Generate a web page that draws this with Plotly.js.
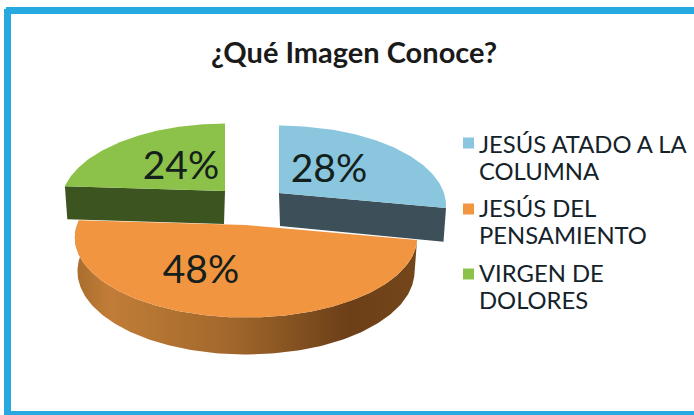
<!DOCTYPE html>
<html><head><meta charset="utf-8">
<script src="https://cdn.plot.ly/plotly-3.0.1.min.js"></script>
<style>html,body{margin:0;padding:0;background:#fff}#c{width:694px;height:415px}</style>
</head><body><div id="c"></div>
<script>
var categories = ["JESÚS ATADO A LA<br>COLUMNA", "JESÚS DEL<br>PENSAMIENTO", "VIRGEN DE<br>DOLORES"];
var values = [28, 48, 24];
var chartTitle = "¿Qué Imagen Conoce?";

var topColors = ["#8ac6dd", "#f29540", "#8cc24a"];
var wallColors = ["#3d5059", "#a0662a", "#3c5420"];
var apex = [[279,193],[246,225],[225,191]];
var radii = [165,169,162];
var labelShift = [[50,-21],[-45,48],[-44,-22]];
var swatchY = [143, 209, 274];
var legendTop = [147, 211, 276];
var LINE=26.7, P=0.157, K=78;

function pt(c, r, deg, bottom){
  var t=deg*Math.PI/180, X=Math.sin(t), Y=-Math.cos(t), w=1-P*Y;
  var d=bottom?33+4*Math.max(Y,0):0, s=bottom?0.985:1;
  return [c[0]+s*r*X/w, c[1]+K*Y/w+d];
}
function arc(c,r,a,b,bottom){
  var o=[],n=Math.max(8,Math.round(Math.abs(b-a)));
  for(var i=0;i<=n;i++) o.push(pt(c,r,a+(b-a)*i/n,bottom));
  return o;
}
function poly(points,color,extra){
  var tr={x:points.map(function(p){return p[0]}),y:points.map(function(p){return p[1]}),
    type:"scatter",mode:"lines",line:{width:0},fill:"toself",fillcolor:color,hoverinfo:"skip",showlegend:false};
  for(var k in extra) tr[k]=extra[k];
  return tr;
}
var total=values.reduce(function(a,b){return a+b},0), a0=0, angles=[];
values.forEach(function(v){angles.push([a0,a0+v/total*360]);a0+=v/total*360;});

var traces=[];
// green
(function(){var c=apex[2],r=radii[2],a=angles[2][0],b=angles[2][1];
  traces.push(poly([c,pt(c,r,a),pt(c,r,a,true),[c[0]-1,c[1]+33]],wallColors[2]));
  traces.push(poly([c].concat(arc(c,r,a,b)),topColors[2]));
})();
// blue
(function(){var c=apex[0],r=radii[0],a=angles[0][0],b=angles[0][1];
  traces.push(poly([c,pt(c,r,b),pt(c,r,b,true),[c[0]+1,c[1]+33]],wallColors[0]));
  traces.push(poly([c].concat(arc(c,r,a,b)),topColors[0]));
})();
// orange
(function(){var c=apex[1],r=radii[1],a=angles[1][0],b=angles[1][1];
  var w=arc(c,r,a,b).concat(arc(c,r,b,a,true));
  traces.push(poly(w,wallColors[1],{fillgradient:{type:"horizontal",colorscale:[
    [0,"#a86c2c"],[0.1,"#c17d38"],[0.45,"#a2682b"],[0.8,"#6c3f18"],[1,"#74461a"]]}}));
  traces.push(poly([c].concat(arc(c,r,a,b)),topColors[1]));
})();
// slice percentages
traces.push({type:"scatter",mode:"text",hoverinfo:"skip",showlegend:false,
  x:apex.map(function(c,i){return c[0]+labelShift[i][0]}),
  y:apex.map(function(c,i){return c[1]+labelShift[i][1]}),
  text:values.map(function(v){return v+"%"}),textposition:"middle center",
  textfont:{family:"Lato, 'Open Sans', sans-serif",size:39,color:"#14201c"}});
// legend swatches
traces.push({type:"scatter",mode:"markers",hoverinfo:"skip",showlegend:false,
  x:swatchY.map(function(){return 468.5}),y:swatchY,
  marker:{symbol:"square",size:11,color:topColors,line:{width:0}}});
// legend text, one line at a time for the tighter leading
var lx=[],ly=[],lt=[];
categories.forEach(function(s,i){s.split("<br>").forEach(function(t,j){lx.push(479);ly.push(legendTop[i]+j*LINE);lt.push(t);});});
traces.push({type:"scatter",mode:"text",hoverinfo:"skip",showlegend:false,
  x:lx,y:ly,text:lt,textposition:"middle right",
  textfont:{family:"Lato, 'Open Sans', sans-serif",size:23.8,color:"#14222a"}});

var border="#25a9e0";
var layout={width:694,height:415,margin:{l:0,r:0,t:0,b:0},paper_bgcolor:"#fff",plot_bgcolor:"#fff",
  showlegend:false,
  xaxis:{range:[0,694],visible:false,fixedrange:true},
  yaxis:{range:[415,0],visible:false,fixedrange:true},
  title:{text:chartTitle,font:{family:"Lato, 'Open Sans', sans-serif",size:29,color:"#1a1a1a",weight:700},
    x:354/694,xanchor:"center",y:1-53/415,yanchor:"middle"},
  shapes:[
   {type:"rect",xref:"x",yref:"y",x0:6,x1:694,y0:7,y1:14,fillcolor:border,line:{width:0}},
   {type:"rect",xref:"x",yref:"y",x0:4,x1:11,y0:9,y1:415,fillcolor:border,line:{width:0}},
   {type:"rect",xref:"x",yref:"y",x0:4,x1:694,y0:411,y1:415,fillcolor:border,line:{width:0}}
  ]};
Plotly.newPlot("c",traces,layout,{displayModeBar:false,staticPlot:true});
</script></body></html>
